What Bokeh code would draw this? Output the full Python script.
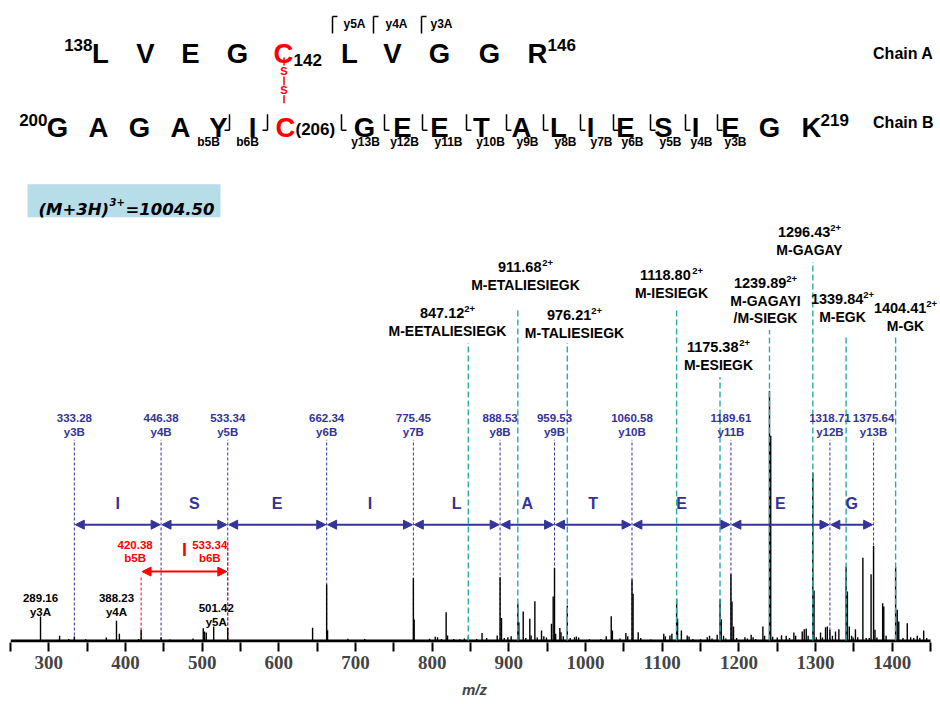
from bokeh.plotting import figure
from bokeh.models import Range1d, ColumnDataSource, FixedTicker, Arrow, NormalHead
from bokeh.core.properties import value, field
from bokeh.embed import file_html
from bokeh.resources import INLINE

# ---------------- data ----------------
peak_mz = [
    289.16, 314.0, 326.0, 333.28, 348.0, 375.0, 388.23, 392.0, 417.0, 420.38,
    446.38, 458.0, 488.0, 501.42, 503.0, 505.3, 515.0, 533.34,
    644.0, 662.34, 663.5, 690.0, 712.0, 775.45, 776.5, 796.5, 804.0, 807.0, 812.0, 818.2,
    820.0, 828.0, 836.0, 842.0, 847.12,
    858.0, 865.0, 871.0, 884.8, 888.53, 890.4, 894.0, 898.7, 903.0, 911.68,
    913.0, 918.7, 922.0, 927.3, 929.0, 933.9, 937.0, 942.6, 945.6, 949.0,
    955.6, 957.8, 959.53, 961.0, 966.5, 968.0, 971.0, 976.21, 980.0, 985.6,
    988.0, 991.0, 1005.0, 1020.0, 1027.0, 1033.5, 1035.0, 1045.0, 1052.6, 1055.0,
    1060.58, 1062.0, 1068.7, 1072.0, 1085.0, 1102.0, 1104.0, 1110.0, 1112.6, 1118.80,
    1120.0, 1125.0, 1132.6, 1135.0, 1140.0, 1150.0,
    1158.7, 1161.7, 1165.0, 1171.7, 1175.38, 1177.0, 1180.0, 1183.0, 1189.61, 1191.0,
    1193.0, 1197.0, 1207.8, 1211.0, 1216.0, 1218.5, 1222.0, 1231.3, 1233.5, 1239.89,
    1241.5, 1244.0, 1250.0, 1255.6, 1261.7, 1266.0, 1271.7, 1274.0, 1282.6, 1285.2,
    1287.8, 1290.3, 1296.43, 1298.0, 1301.0, 1306.5, 1309.0, 1313.0, 1315.3, 1318.71,
    1322.0, 1326.0, 1330.4, 1339.84, 1341.5, 1344.0, 1347.0, 1349.0, 1352.0, 1355.0,
    1361.7, 1366.0, 1370.0, 1372.4, 1375.64, 1377.5, 1380.0, 1387.5, 1389.0, 1392.0,
    1404.41, 1406.5, 1408.5, 1414.0, 1419.6, 1424.0, 1428.0, 1432.6, 1436.0, 1441.0,
    1445.0,
]
peak_int = [
    9.6, 1.9, 0.6, 1.6, 0.5, 1.2, 7.9, 2.7, 0.6, 4.3,
    1.3, 0.4, 0.8, 4.9, 3.6, 3.2, 5.6, 5.0,
    5.1, 22.4, 4.1, 0.7, 0.6, 25.0, 8.4, 0.7, 1.5, 1.3, 0.6, 11.3,
    2.0, 0.6, 0.5, 0.8, 1.7,
    0.6, 3.0, 1.0, 2.0, 25.3, 9.0, 1.0, 1.3, 1.7, 14.7,
    7.3, 11.6, 1.0, 8.7, 2.0, 15.7, 1.2, 4.0, 1.7, 1.2,
    6.7, 17.6, 29.0, 2.7, 5.0, 3.3, 1.7, 14.0, 1.0, 1.3,
    1.6, 1.2, 0.5, 0.5, 1.7, 9.7, 4.0, 0.8, 3.0, 1.7,
    24.4, 18.7, 3.3, 1.0, 0.4, 2.7, 1.7, 2.0, 2.7, 16.7,
    8.7, 4.0, 2.0, 1.6, 0.6, 0.5,
    1.3, 1.9, 0.8, 2.3, 16.5, 8.5, 1.9, 0.8, 26.5, 15.6,
    5.6, 1.0, 1.3, 0.8, 2.3, 1.3, 0.6, 5.6, 1.9, 100.0,
    82.0, 1.5, 1.2, 2.1, 1.9, 1.0, 3.2, 1.9, 3.6, 4.5,
    4.8, 1.9, 67.3, 20.0, 1.3, 3.2, 1.2, 5.3, 5.6, 4.3,
    1.9, 3.6, 4.5, 29.6, 19.6, 5.6, 1.9, 1.2, 4.5, 1.3,
    33.2, 1.0, 1.0, 26.5, 37.9, 4.3, 1.2, 14.9, 13.6, 1.9,
    29.3, 12.3, 7.6, 1.0, 6.9, 1.3, 1.0, 1.9, 1.0, 4.0,
    1.0,
]

chainA_res = ["L", "V", "E", "G", "C", "L", "V", "G", "G", "R"]
chainA_first, chainA_cys, chainA_last = "138", "142", "146"
chainA_ions = ["y5A", "y4A", "y3A"]
chainB_res = ["G", "A", "G", "A", "Y", "I", "C", "G", "E", "E", "T", "A", "L",
              "I", "E", "S", "I", "E", "G", "K"]
chainB_first, chainB_cys, chainB_last = "200", "(206)", "219"
chainB_b_ions = ["b5B", "b6B"]
chainB_y_ions = ["y13B", "y12B", "y11B", "y10B", "y9B", "y8B", "y7B", "y6B",
                 "y5B", "y4B", "y3B"]
chain_names = ["Chain A", "Chain B"]

precursor_ion = "(M+3H)"
precursor_charge = "3+"
precursor_mz = "=1004.50"

yA_mz = [289.16, 388.23, 501.42]
yA_lab = ["y3A", "y4A", "y5A"]

yB_mz = [333.28, 446.38, 533.34, 662.34, 775.45, 888.53, 959.53, 1060.58,
         1189.61, 1318.71, 1375.64]
yB_lab = ["y3B", "y4B", "y5B", "y6B", "y7B", "y8B", "y9B", "y10B", "y11B",
          "y12B", "y13B"]
yB_gap_res = ["I", "S", "E", "I", "L", "A", "T", "E", "E", "G"]

b_mz = [420.38, 533.34]
b_lab = ["b5B", "b6B"]
b_gap_res = ["I"]

loss_mz = [847.12, 911.68, 976.21, 1118.80, 1175.38, 1239.89, 1296.43, 1339.84, 1404.41]
loss_lab = [["M-EETALIESIEGK"], ["M-ETALIESIEGK"], ["M-TALIESIEGK"], ["M-IESIEGK"],
            ["M-ESIEGK"], ["M-GAGAYI", "/M-SIEGK"], ["M-GAGAY"], ["M-EGK"], ["M-GK"]]
loss_charge = "2+"

x_ticks = [300, 400, 500, 600, 700, 800, 900, 1000, 1100, 1200, 1300, 1400]
x_minor = [250, 350, 450, 550, 650, 750, 850, 950, 1050, 1150, 1250, 1350, 1450]
x_title = "m/z"

# ---------------- layout / style ----------------
BLUE = "#333399"
TEAL = "#2eaaaa"
RED = "#ff0000"
FONT = "Liberation Sans"

W, H = 938, 700
LEFT, TOP, BOTTOM = 10, 8, 57
PXU = 0.76673            # pixels per m/z unit
XMIN = 250
XMAX = XMIN + (W - LEFT) / PXU
BASE = 641               # page y of the spectrum baseline
INT_SCALE = 2.5          # pixels per % intensity
FRAME_H = H - TOP - BOTTOM
Y_LO = BASE - (TOP + FRAME_H)
Y_HI = BASE - TOP


def PX(px):
    return XMIN + (px - LEFT) / PXU


def PY(py):
    return BASE - py


p = figure(width=W, height=H, x_range=Range1d(XMIN, XMAX), y_range=Range1d(Y_LO, Y_HI),
           output_backend="svg", toolbar_location=None, y_axis_location=None,
           min_border_left=LEFT, min_border_right=0, min_border_top=TOP,
           min_border_bottom=BOTTOM)
p.extra_y_ranges = {"int": Range1d(Y_LO / INT_SCALE, Y_HI / INT_SCALE)}
p.xgrid.visible = False
p.ygrid.visible = False
p.outline_line_color = None

ax = p.xaxis[0]
ax.ticker = FixedTicker(ticks=x_ticks, minor_ticks=x_minor)
ax.axis_line_color = None
ax.major_tick_line_width = 2
ax.minor_tick_line_width = 2
ax.major_tick_out = 9
ax.minor_tick_out = 9
ax.major_tick_in = 0
ax.minor_tick_in = 0
ax.major_label_text_font = "Liberation Sans Narrow"
ax.major_label_text_font_style = "bold"
ax.major_label_text_font_size = "19px"
ax.major_label_standoff = 4
ax.axis_label = x_title
ax.axis_label_text_font = FONT
ax.axis_label_text_font_style = "bold italic"
ax.axis_label_text_font_size = "15px"
ax.axis_label_standoff = 9


def T(x, y, s, size, color="black", align="center", baseline="middle",
      style="bold", font=FONT, x_offset=0):
    p.text(x=[x], y=[y], text=[s], text_font=value(font),
           text_font_size=value(f"{size}px"), text_font_style=style,
           text_color=color, text_align=align, text_baseline=baseline,
           x_offset=x_offset)


def L(px0, py0, px1, py1, color="black", width=1.5, dash="solid"):
    p.segment(x0=[PX(px0)], y0=[PY(py0)], x1=[PX(px1)], y1=[PY(py1)],
              line_color=color, line_width=width, line_dash=dash)


# axis baseline
p.segment(x0=[x_minor[0]], y0=[Y_LO + 1.5], x1=[x_minor[-1]], y1=[Y_LO + 1.5],
          line_color="black", line_width=3)

# blue y-ion (chain B) dashed guides
n = len(yB_mz)
p.segment(x0=yB_mz, y0=[0] * n, x1=yB_mz, y1=[PY(440)] * n,
          line_color=BLUE, line_width=1, line_dash="3 2")

# red b-ion dashed guides
b_tops = [577, 543]
p.segment(x0=b_mz, y0=[0, 0], x1=b_mz, y1=[PY(t) for t in b_tops],
          line_color=RED, line_width=1, line_dash="3 2")

# spectrum
p.segment(x0=peak_mz, y0=[0] * len(peak_mz), x1=peak_mz, y1=peak_int,
          y_range_name="int", line_color="black", line_width=1.4)

# teal neutral-loss guides
loss_tops = [343, 308, 343, 308, 377, 330, 262, 337, 337]
m = len(loss_mz)
p.segment(x0=loss_mz, y0=[0] * m, x1=loss_mz, y1=[PY(t) for t in loss_tops],
          line_color=TEAL, line_width=1.4, line_dash="6 3")

# blue y-ion labels
for mz, lab in zip(yB_mz, yB_lab):
    T(mz, PY(418), f"{mz:.2f}", 11.5, BLUE)
    T(mz, PY(432), lab, 11.5, BLUE)

# blue residues & arrows
gap = 1.2
arr = ColumnDataSource(dict(
    xs=[a + gap for a in yB_mz[:-1]], xe=[b - gap for b in yB_mz[1:]],
    y=[PY(525)] * (n - 1)))
p.add_layout(Arrow(start=NormalHead(size=9, fill_color=BLUE, line_color=BLUE),
                   end=NormalHead(size=9, fill_color=BLUE, line_color=BLUE),
                   x_start=field("xs"), y_start=field("y"), x_end=field("xe"),
                   y_end=field("y"), source=arr, line_color=BLUE, line_width=2))
for a, b, r in zip(yB_mz[:-1], yB_mz[1:], yB_gap_res):
    T((a + b) / 2, PY(504), r, 16, BLUE)

# red b-ion labels and arrow
b_off = [-6, -18]
for mz, lab, off in zip(b_mz, b_lab, b_off):
    T(mz, PY(545), f"{mz:.2f}", 11.5, RED, x_offset=off)
    T(mz, PY(558), lab, 11.5, RED, x_offset=off)
p.add_layout(Arrow(start=NormalHead(size=9, fill_color=RED, line_color=RED),
                   end=NormalHead(size=9, fill_color=RED, line_color=RED),
                   x_start=b_mz[0] + gap, y_start=PY(572), x_end=b_mz[1] - gap,
                   y_end=PY(572), line_color=RED, line_width=2))
T((b_mz[0] + b_mz[1]) / 2, PY(550), b_gap_res[0], 18, RED)

# black y-ion (chain A) labels
yA_off = [0, 0, 13]
yA_y = [598, 598, 608]
for mz, lab, off, yy in zip(yA_mz, yA_lab, yA_off, yA_y):
    T(mz, PY(yy), f"{mz:.2f}", 11.5, x_offset=off)
    T(mz, PY(yy + 14), lab, 11.5, x_offset=off)

# neutral-loss labels
loss_cx = [447, 525, 574, 671, 718, 765, 809, 842, 905]
loss_ny = [313, 267, 315, 275, 347, 283, 232, 299, 308]
NUM_FS, SUP_FS, NAME_FS = 14.5, 9.5, 14


def num_w(s, size):
    return sum(0.556 if c.isdigit() else 0.278 for c in s) * size


for mz, names, cx, ny in zip(loss_mz, loss_lab, loss_cx, loss_ny):
    s = f"{mz:.2f}"
    nw = num_w(s, NUM_FS)
    sw = (0.556 + 0.584) * SUP_FS
    left = cx - (nw + sw) / 2
    T(PX(left), PY(ny), s, NUM_FS, align="left")
    T(PX(left + nw), PY(ny - 4), loss_charge, SUP_FS, align="left")
    for j, nm in enumerate(names):
        T(PX(cx), PY(ny + 18 + 17 * j), nm, NAME_FS)

# precursor box
p.quad(left=[PX(27)], right=[PX(220)], top=[PY(184)], bottom=[PY(217)],
       fill_color="#b7dde8", line_color=None)
DV = "DejaVu Sans"
T(PX(38), PY(209), precursor_ion, 16.5, align="left", baseline="alphabetic",
  style="bold italic", font=DV)
T(PX(109), PY(202), precursor_charge, 10, align="left", baseline="alphabetic",
  style="bold italic", font=DV)
T(PX(125), PY(209), precursor_mz, 16.5, align="left", baseline="alphabetic",
  style="bold italic", font=DV)

# ---------------- peptide header ----------------
SEQ = 27.5
A_x = [100, 145, 190, 237, 283, 349, 392, 439, 489, 537]
for r, x in zip(chainA_res, A_x):
    T(PX(x), PY(53), r, SEQ, RED if r == "C" else "black", baseline="alphabetic")
T(PX(92), PY(45), chainA_first, 17, align="right", baseline="alphabetic")
T(PX(293), PY(60), chainA_cys, 17, align="left", baseline="alphabetic")
T(PX(547), PY(45), chainA_last, 17, align="left", baseline="alphabetic")
T(PX(933), PY(53), chain_names[0], 16, align="right", baseline="alphabetic")

A_br = [332, 373, 421]
A_lx = [354, 396, 441]
for bx, lx, lab in zip(A_br, A_lx, chainA_ions):
    L(bx, 16, bx, 33)
    L(bx, 16, bx + 5, 16)
    T(PX(lx), PY(24), lab, 12, baseline="alphabetic")

B_x = [57, 98, 139, 180, 218, 252, 285, 364, 402, 439, 481, 521, 558, 590,
       625, 663, 695, 730, 769, 811]
for r, x in zip(chainB_res, B_x):
    T(PX(x), PY(127), r, SEQ, RED if r == "C" else "black", baseline="alphabetic")
T(PX(47), PY(120), chainB_first, 17, align="right", baseline="alphabetic")
T(PX(295), PY(129), chainB_cys, 17, align="left", baseline="alphabetic")
T(PX(820), PY(120), chainB_last, 17, align="left", baseline="alphabetic")
T(PX(933), PY(122), chain_names[1], 16, align="right", baseline="alphabetic")

Bb_br = [229, 267]
Bb_lx = [208, 247]
for bx, lx, lab in zip(Bb_br, Bb_lx, chainB_b_ions):
    L(bx, 114, bx, 130)
    L(bx - 5, 130, bx, 130)
    T(PX(lx), PY(142), lab, 12, baseline="alphabetic")

By_br = [341, 384, 422, 466, 506, 543, 580, 613, 650, 685, 717]
By_lx = [365, 404, 448, 490, 527, 565, 601, 632, 670, 701, 735]
for bx, lx, lab in zip(By_br, By_lx, chainB_y_ions):
    L(bx, 114, bx, 130)
    L(bx, 130, bx + 5, 130)
    T(PX(lx), PY(142), lab, 12, baseline="alphabetic")

# disulfide bridge
for y0, y1 in [(57, 65), (76, 85), (95, 103)]:
    L(283.5, y0, 283.5, y1, color=RED, width=1.5)
for yy in [70.5, 90]:
    T(PX(283.5), PY(yy), "S", 11, RED)

open("out.html", "w").write(file_html(p, INLINE))
